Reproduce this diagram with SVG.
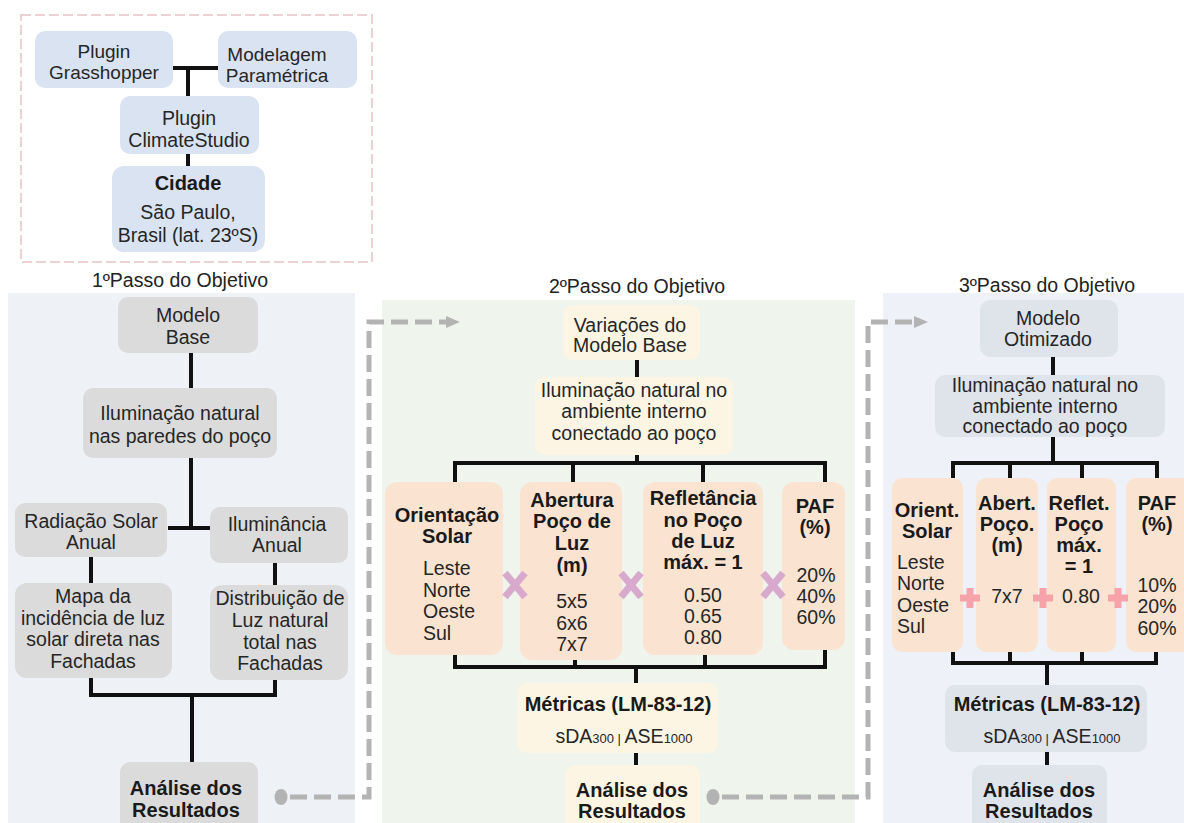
<svg xmlns="http://www.w3.org/2000/svg" width="1184" height="823" viewBox="0 0 1184 823">
<style>
text{font-family:"Liberation Sans",Arial,sans-serif;font-size:19.5px;fill:#262626;text-anchor:middle}
.b{font-weight:bold;font-size:20px;fill:#1a1a1a}
.l{text-anchor:start}
.s{font-size:13px}
.t{font-size:19.5px;fill:#222}
.blue{fill:#dae3f2}
.gray{fill:#dbdbdb}
.cream{fill:#fdf5e3}
.peach{fill:#fbe3d2}
.gb{fill:#dfe3ea}
.ln{stroke:#111;stroke-width:4;fill:none}
.dash{stroke:#b3b3b3;stroke-width:5;fill:none;stroke-dasharray:17 7}
.xm{stroke:#d6a9cd;stroke-width:7;stroke-linecap:butt}
.pl{stroke:#f5a3a8;stroke-width:7}
</style>
<defs>
<marker id="arr" markerUnits="userSpaceOnUse" markerWidth="16" markerHeight="16" refX="2" refY="8" orient="auto">
<path d="M0,2 L14,8 L0,14 Z" fill="#b3b3b3"/>
</marker>
</defs>
<rect width="1184" height="823" fill="#ffffff"/>
<!-- backgrounds -->
<rect x="21" y="15" width="351" height="247" fill="none" stroke="#e6c3c3" stroke-width="1.5" stroke-dasharray="10 4"/>
<rect x="8" y="293" width="347" height="530" fill="#eef1f5"/>
<rect x="382" y="300" width="473" height="523" fill="#eff5ed"/>
<rect x="883" y="293" width="301" height="530" fill="#eef1f7"/>
<text x="180" y="287" class="t">1ºPasso do Objetivo</text>
<text x="637" y="293" class="t">2ºPasso do Objetivo</text>
<text x="1047" y="292" class="t">3ºPasso do Objetivo</text>

<g id="connectors">
<path class="ln" d="M173,68 H218 M188,68 V96 M188,154 V166"/>
<path class="ln" d="M191,353 V388 M191,458 V528 M168,528 H210 M91,557 V583 M275,563 V585 M91,678 V695 H275 V680 M192,695 V762"/>
<path class="ln" d="M637,360 V377 M637,455 V463 M455,482 V463 H825 V482 M573,463 V482 M703,463 V482"/>
<path class="ln" d="M455,655 V667 H825 V650 M575,660 V667 M705,655 V667 M636,667 V683 M636,753 V765"/>
<path class="ln" d="M1053,357 V375 M1053,437 V463 M953,478 V463 H1157 V478 M1010,463 V478 M1082,463 V478"/>
<path class="ln" d="M953,652 V663 H1156 V652 M1010,652 V663 M1082,652 V663 M1047,663 V685 M1047,752 V765"/>
<ellipse cx="281" cy="797" rx="6.5" ry="8" fill="#b3b3b3"/>
<path class="dash" d="M290,797 H369 V322 H448" marker-end="url(#arr)"/>
<ellipse cx="713" cy="797" rx="6.5" ry="8" fill="#b3b3b3"/>
<path class="dash" d="M722,797 H868 V322 H916" marker-end="url(#arr)"/>
</g>

<g id="n-grasshopper"><rect class="blue" x="35" y="31" width="138" height="57" rx="10"/><text x="104" y="58" style="font-size:19px">Plugin</text><text x="104" y="79" style="font-size:19px">Grasshopper</text></g>
<g id="n-modelagem"><rect class="blue" x="218" y="31" width="139" height="57" rx="10"/><text x="277" y="61" style="font-size:19px">Modelagem</text><text x="277" y="82" style="font-size:19px">Paramétrica</text></g>
<g id="n-climatestudio"><rect class="blue" x="120" y="96" width="139" height="58" rx="10"/><text x="189" y="125">Plugin</text><text x="189" y="147">ClimateStudio</text></g>
<g id="n-cidade"><rect class="blue" x="112" y="166" width="153" height="86" rx="12"/><text x="188" y="190" class="b">Cidade</text><text x="188" y="219">São Paulo,</text><text x="188" y="242">Brasil (lat. 23ºS)</text></g>

<g id="n-modelobase"><rect class="gray" x="118" y="297" width="140" height="56" rx="10"/><text x="188" y="322">Modelo</text><text x="188" y="344">Base</text></g>
<g id="n-ilum1"><rect class="gray" x="83" y="388" width="194" height="70" rx="10"/><text x="180" y="420">Iluminação natural</text><text x="180" y="443">nas paredes do poço</text></g>
<g id="n-radiacao"><rect class="gray" x="15" y="503" width="152" height="54" rx="10"/><text x="91" y="528">Radiação Solar</text><text x="91" y="549">Anual</text></g>
<g id="n-iluminancia"><rect class="gray" x="210" y="507" width="138" height="56" rx="10"/><text x="277" y="531">Iluminância</text><text x="277" y="552">Anual</text></g>
<g id="n-mapa"><rect class="gray" x="15" y="583" width="157" height="95" rx="12"/><text x="93" y="603">Mapa da</text><text x="93" y="625">incidência de luz</text><text x="93" y="646">solar direta nas</text><text x="93" y="668">Fachadas</text></g>
<g id="n-distribuicao"><rect class="gray" x="210" y="585" width="138" height="95" rx="12"/><text x="280" y="605">Distribuição de</text><text x="280" y="627">Luz natural</text><text x="280" y="649">total nas</text><text x="280" y="670">Fachadas</text></g>
<g id="n-analise1"><rect class="gray" x="120" y="762" width="138" height="70" rx="10"/><text x="186" y="795" class="b">Análise dos</text><text x="186" y="817" class="b">Resultados</text></g>

<g id="n-variacoes"><rect class="cream" x="563" y="305" width="137" height="55" rx="10"/><text x="630" y="332">Variações do</text><text x="630" y="352">Modelo Base</text></g>
<g id="n-ilum2"><rect class="cream" x="535" y="377" width="198" height="78" rx="10"/><text x="634" y="397">Iluminação natural no</text><text x="634" y="418">ambiente interno</text><text x="634" y="440">conectado ao poço</text></g>
<g id="n-orientacao"><rect class="peach" x="385" y="482" width="118" height="173" rx="12"/><text x="447" y="522" class="b">Orientação</text><text x="447" y="543" class="b">Solar</text><text x="423" y="575" class="l">Leste</text><text x="423" y="597" class="l">Norte</text><text x="423" y="618" class="l">Oeste</text><text x="423" y="640" class="l">Sul</text></g>
<g id="n-abertura"><rect class="peach" x="520" y="482" width="102" height="178" rx="12"/><text x="572" y="507" class="b">Abertura</text><text x="572" y="528" class="b">Poço de</text><text x="572" y="550" class="b">Luz</text><text x="572" y="572" class="b">(m)</text><text x="572" y="608">5x5</text><text x="572" y="630">6x6</text><text x="572" y="651">7x7</text></g>
<g id="n-refletancia"><rect class="peach" x="643" y="482" width="120" height="173" rx="12"/><text x="703" y="505" class="b">Refletância</text><text x="703" y="527" class="b">no Poço</text><text x="703" y="548" class="b">de Luz</text><text x="703" y="569" class="b">máx. = 1</text><text x="703" y="602">0.50</text><text x="703" y="623">0.65</text><text x="703" y="644">0.80</text></g>
<g id="n-paf2"><rect class="peach" x="782" y="482" width="63" height="168" rx="12"/><text x="815" y="513" class="b">PAF</text><text x="815" y="534" class="b">(%)</text><text x="816" y="582">20%</text><text x="816" y="603">40%</text><text x="816" y="624">60%</text></g>
<g id="ops2">
<path class="xm" d="M505,573 L525,597 M525,573 L505,597"/>
<path class="xm" d="M621,573 L641,597 M641,573 L621,597"/>
<path class="xm" d="M763,573 L783,597 M783,573 L763,597"/>
</g>
<g id="n-metricas2"><rect class="cream" x="517" y="683" width="201" height="70" rx="10"/><text x="618" y="711" class="b">Métricas (LM-83-12)</text><text x="624" y="743">sDA<tspan class="s">300</tspan><tspan class="s"> | </tspan>ASE<tspan class="s">1000</tspan></text></g>
<g id="n-analise2"><rect class="cream" x="565" y="765" width="135" height="70" rx="10"/><text x="632" y="797" class="b">Análise dos</text><text x="632" y="818" class="b">Resultados</text></g>

<g id="n-otimizado"><rect class="gb" x="980" y="300" width="138" height="57" rx="10"/><text x="1048" y="325">Modelo</text><text x="1048" y="346">Otimizado</text></g>
<g id="n-ilum3"><rect class="gb" x="935" y="375" width="230" height="62" rx="10"/><text x="1045" y="392">Iluminação natural no</text><text x="1045" y="413">ambiente interno</text><text x="1045" y="433">conectado ao poço</text></g>
<g id="n-orient3"><rect class="peach" x="892" y="478" width="71" height="174" rx="10"/><text x="927" y="517" class="b">Orient.</text><text x="927" y="538" class="b">Solar</text><text x="897" y="569" class="l">Leste</text><text x="897" y="590" class="l">Norte</text><text x="897" y="612" class="l">Oeste</text><text x="897" y="633" class="l">Sul</text></g>
<g id="n-abert3"><rect class="peach" x="976" y="478" width="62" height="174" rx="10"/><text x="1007" y="510" class="b">Abert.</text><text x="1007" y="531" class="b">Poço.</text><text x="1007" y="552" class="b">(m)</text><text x="1007" y="603">7x7</text></g>
<g id="n-reflet3"><rect class="peach" x="1047" y="478" width="69" height="174" rx="10"/><text x="1079" y="510" class="b">Reflet.</text><text x="1079" y="531" class="b">Poço</text><text x="1079" y="552" class="b">máx.</text><text x="1079" y="573" class="b">= 1</text><text x="1081" y="603">0.80</text></g>
<g id="n-paf3"><rect class="peach" x="1126" y="478" width="70" height="174" rx="10"/><text x="1157" y="510" class="b">PAF</text><text x="1157" y="531" class="b">(%)</text><text x="1157" y="592">10%</text><text x="1157" y="613">20%</text><text x="1157" y="635">60%</text></g>
<g id="ops3">
<path class="pl" d="M960,598 H980 M970,588 V608"/>
<path class="pl" d="M1033,598 H1053 M1043,588 V608"/>
<path class="pl" d="M1108,598 H1128 M1118,588 V608"/>
</g>
<g id="n-metricas3"><rect class="gb" x="945" y="685" width="202" height="67" rx="10"/><text x="1047" y="711" class="b">Métricas (LM-83-12)</text><text x="1052" y="743">sDA<tspan class="s">300</tspan><tspan class="s"> | </tspan>ASE<tspan class="s">1000</tspan></text></g>
<g id="n-analise3"><rect class="gb" x="972" y="765" width="135" height="70" rx="10"/><text x="1039" y="797" class="b">Análise dos</text><text x="1039" y="818" class="b">Resultados</text></g>
</svg>
